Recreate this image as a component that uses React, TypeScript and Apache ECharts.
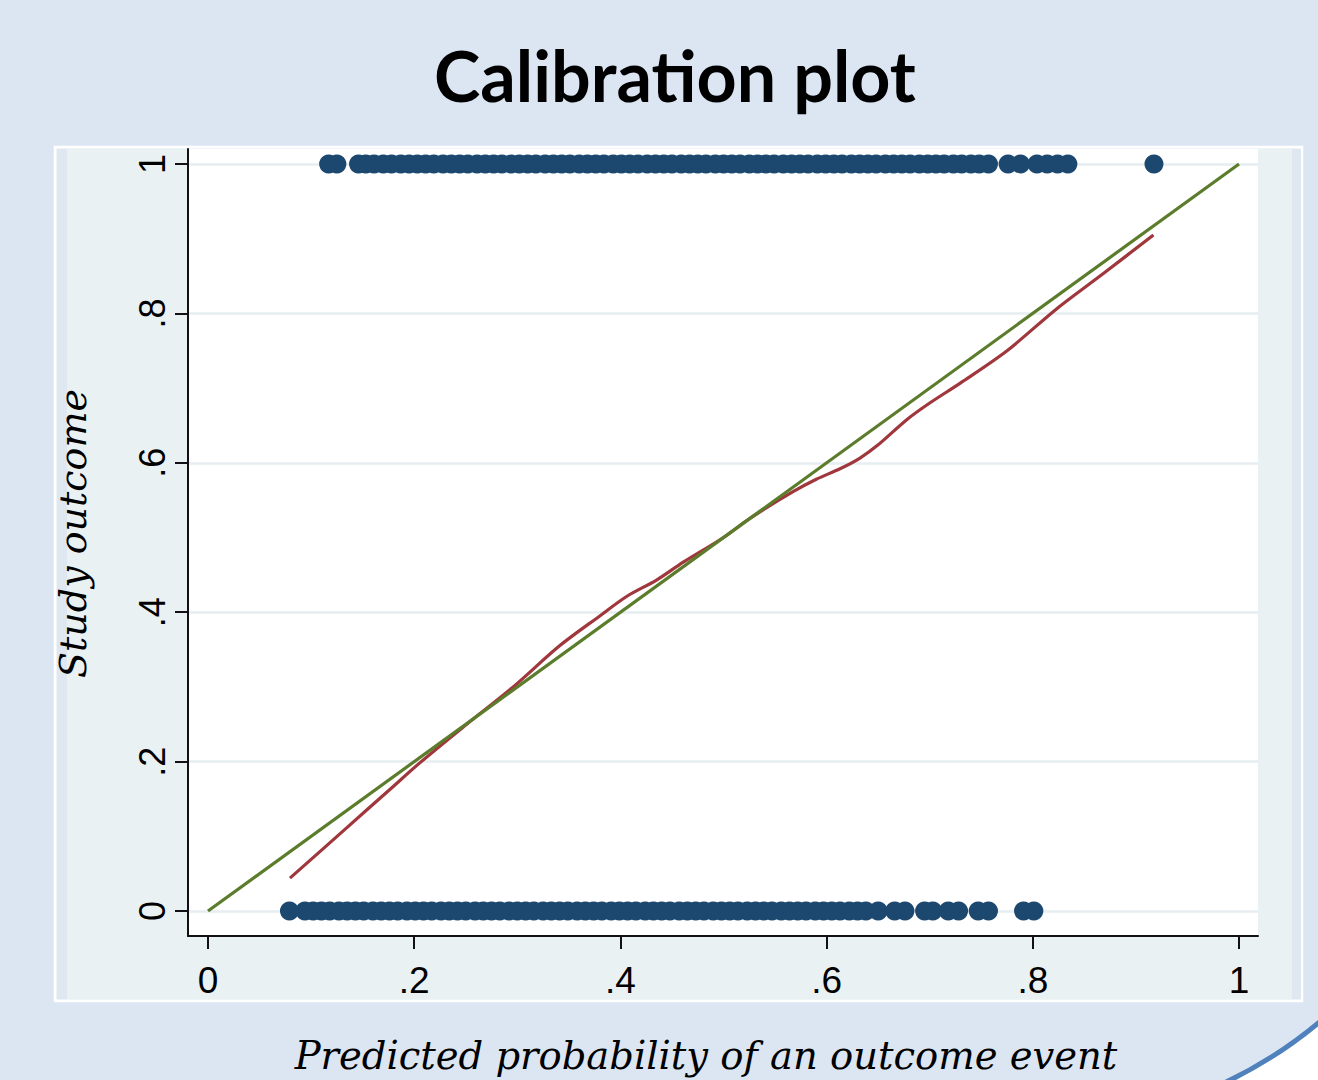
import React, { useEffect, useRef } from "react";
import * as echarts from "echarts";

const titleText = "Calibration plot";
const xName = "Predicted probability of an outcome event";
const yName = "Study outcome";

const tickValues = [0, 0.2, 0.4, 0.6, 0.8, 1];
const tickLabels = ["0", ".2", ".4", ".6", ".8", "1"];

// predicted probabilities of observations with outcome = 1
const eventPred = [
  0.117, 0.125, 0.146, 0.153, 0.161, 0.17, 0.178, 0.187, 0.195, 0.203, 0.211, 0.219,
  0.228, 0.236, 0.244, 0.252, 0.261, 0.269, 0.277, 0.285, 0.294, 0.302, 0.31, 0.318,
  0.327, 0.335, 0.343, 0.351, 0.36, 0.368, 0.376, 0.384, 0.393, 0.401, 0.409, 0.417,
  0.426, 0.434, 0.442, 0.45, 0.459, 0.467, 0.475, 0.483, 0.492, 0.5, 0.508, 0.516,
  0.525, 0.533, 0.541, 0.549, 0.558, 0.566, 0.574, 0.582, 0.591, 0.599, 0.607, 0.615,
  0.624, 0.632, 0.64, 0.648, 0.657, 0.665, 0.673, 0.681, 0.69, 0.698, 0.706, 0.714,
  0.723, 0.731, 0.74, 0.748, 0.757, 0.776, 0.788, 0.804, 0.814, 0.824, 0.834, 0.9175,
];

// predicted probabilities of observations with outcome = 0
const nonEventPred = [
  0.079, 0.094, 0.102, 0.11, 0.118, 0.127, 0.135, 0.143, 0.151, 0.16, 0.168, 0.176,
  0.184, 0.193, 0.201, 0.209, 0.217, 0.226, 0.234, 0.242, 0.25, 0.259, 0.267, 0.275,
  0.283, 0.292, 0.3, 0.308, 0.316, 0.325, 0.333, 0.341, 0.349, 0.358, 0.366, 0.374,
  0.382, 0.391, 0.399, 0.407, 0.415, 0.424, 0.432, 0.44, 0.448, 0.457, 0.465, 0.473,
  0.481, 0.49, 0.498, 0.506, 0.514, 0.523, 0.531, 0.539, 0.547, 0.556, 0.564, 0.572,
  0.58, 0.589, 0.597, 0.605, 0.613, 0.622, 0.63, 0.638, 0.65, 0.666, 0.676, 0.695,
  0.703, 0.718, 0.728, 0.747, 0.757, 0.791, 0.801,
];

// lowess smoother of observed outcome against predicted probability
const lowessX = [
  0.0795, 0.135, 0.175, 0.206, 0.25, 0.296, 0.341, 0.38, 0.406, 0.435, 0.461, 0.5,
  0.526, 0.567, 0.59, 0.613, 0.632, 0.65, 0.678, 0.7, 0.73, 0.775, 0.823, 0.87, 0.917,
];
const lowessY = [
  0.044, 0.112, 0.161, 0.199, 0.249, 0.3, 0.355, 0.395, 0.421, 0.443, 0.467, 0.5,
  0.526, 0.561, 0.578, 0.592, 0.606, 0.624, 0.658, 0.68, 0.707, 0.75, 0.806, 0.855, 0.905,
];

// perfect calibration reference
const refX = [0, 1];
const refY = [0, 1];

export default function App() {
  const ref = useRef<HTMLDivElement>(null);

  useEffect(() => {
    document.body.style.margin = "0";
    const chart = echarts.init(ref.current!, null, { renderer: "svg" });
    const fmt = (v: number) => {
      const i = tickValues.findIndex((t) => Math.abs(t - v) < 1e-9);
      return i >= 0 ? tickLabels[i] : "";
    };
    const scatterData = [
      ...eventPred.map((x) => [x, 1]),
      ...nonEventPred.map((x) => [x, 0]),
    ];
    chart.setOption({
      animation: false,
      backgroundColor: "#dce6f2",
      title: {
        text: titleText,
        left: 434,
        top: 40,
        padding: 0,
        textStyle: {
          fontFamily: "Lato",
          fontWeight: "bold",
          fontSize: 70,
          color: "#000",
        },
      },
      graphic: [
        { type: "rect", z: -30, shape: { x: 1100, y: 1000, width: 218, height: 80 }, style: { fill: "#ffffff" } },
        { type: "circle", z: -20, shape: { cx: 1031, cy: 676.5, r: 450 }, style: { fill: "#dce6f2" } },
        { type: "arc", z: -19, shape: { cx: 1031, cy: 676.5, r: 450, startAngle: 0.8, endAngle: 1.2, clockwise: true }, style: { fill: "none", stroke: "#4f81bd", lineWidth: 5 } },
        { type: "rect", z: -10, shape: { x: 55, y: 147, width: 1247, height: 854 }, style: { fill: "#eaf1f3", stroke: "#ffffff", lineWidth: 2.5 } },
        { type: "rect", z: -9, shape: { x: 57, y: 149, width: 10, height: 850 }, style: { fill: "#dfe8f1" } },
        { type: "rect", z: -9, shape: { x: 1292, y: 149, width: 9, height: 850 }, style: { fill: "#dfe8f1" } },
      ],
      grid: {
        left: 188,
        right: 60,
        top: 149,
        bottom: 142,
        show: true,
        backgroundColor: "#ffffff",
        borderWidth: 0,
        containLabel: false,
      },
      xAxis: {
        type: "value",
        min: -0.0194,
        max: 1.0184,
        name: xName,
        nameLocation: "middle",
        nameGap: 100,
        nameTextStyle: {
          fontFamily: "DejaVu Serif",
          fontStyle: "italic",
          fontSize: 38.5,
          color: "#000",
          padding: [0, 34, 0, 0],
        },
        axisLine: { onZero: false, lineStyle: { color: "#111", width: 2 } },
        axisTick: { customValues: tickValues, length: 13, lineStyle: { color: "#111", width: 2 } },
        axisLabel: {
          customValues: tickValues,
          formatter: fmt,
          margin: 26,
          fontFamily: "Liberation Sans",
          fontSize: 37,
          color: "#000",
        },
        splitLine: { show: false },
      },
      yAxis: {
        type: "value",
        min: -0.0334,
        max: 1.02,
        name: yName,
        nameLocation: "middle",
        nameGap: 96,
        nameTextStyle: {
          fontFamily: "DejaVu Serif",
          fontStyle: "italic",
          fontSize: 38,
          color: "#000",
          padding: [0, 0, 0, 18],
        },
        axisLine: { onZero: false, lineStyle: { color: "#111", width: 2 } },
        axisTick: { customValues: tickValues, length: 13, lineStyle: { color: "#111", width: 2 } },
        axisLabel: {
          customValues: tickValues,
          formatter: fmt,
          rotate: 90,
          margin: 18,
          fontFamily: "Liberation Sans",
          fontSize: 36,
          color: "#000",
        },
        splitLine: { show: true, lineStyle: { color: "#e6eef1", width: 2.5 } },
      },
      series: [
        {
          type: "scatter",
          data: scatterData,
          symbol: "circle",
          symbolSize: 19,
          itemStyle: { color: "#1c4870", opacity: 1 },
          silent: true,
        },
        {
          type: "line",
          data: lowessX.map((x, i) => [x, lowessY[i]]),
          showSymbol: false,
          symbol: "none",
          smooth: 0.3,
          lineStyle: { color: "#a0373d", width: 3.2 },
          silent: true,
        },
        {
          type: "line",
          data: refX.map((x, i) => [x, refY[i]]),
          showSymbol: false,
          symbol: "none",
          lineStyle: { color: "#5b7d2b", width: 3.2 },
          silent: true,
        },
      ],
    });
    return () => chart.dispose();
  }, []);

  return <div ref={ref} style={{ width: 1318, height: 1080 }} />;
}
